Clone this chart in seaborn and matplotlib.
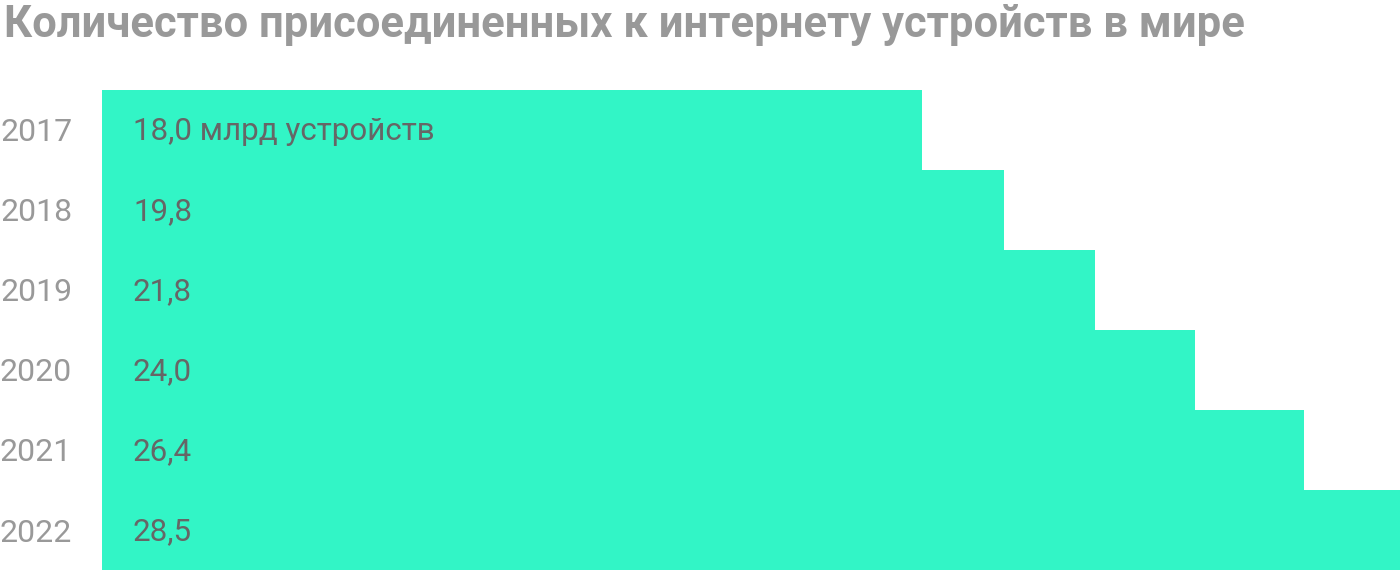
import matplotlib
matplotlib.use('Agg')
from matplotlib import pyplot as plt
import seaborn as sns
import pandas as pd

# данные
anos = ['2017', '2018', '2019', '2020', '2021', '2022']
dispositivos = [18.0, 19.8, 21.8, 24.0, 26.4, 28.5]
rotulos = ['18,0 млрд устройств', '19,8', '21,8', '24,0', '26,4', '28,5']

titulo = 'Количество присоединенных к интернету устройств в мире'

cor_barra = '#32f5c6'
cor_ano = '#999999'
cor_valor = '#666666'

sns.set_theme(style='white')
plt.rcParams['font.family'] = ['Roboto', 'DejaVu Sans']

df = pd.DataFrame({'ano': anos, 'valor': dispositivos})

fig = plt.figure(figsize=(14, 5.72), dpi=100)
ax = fig.add_axes([102 / 1400, 2 / 572, 1298 / 1400, 480 / 572])

sns.barplot(data=df, x='valor', y='ano', orient='h', width=1.0,
            color=cor_barra, saturation=1, linewidth=0, ax=ax)

ax.set_xlim(0, 28.5)
ax.set_xlabel('')
ax.set_ylabel('')
ax.set_xticks([])

# rótulos dos anos
ax.tick_params(axis='y', length=0, pad=21.5, labelsize=23, labelcolor=cor_ano)

# rótulos dos valores
for i, r in enumerate(rotulos):
    ax.annotate(r, xy=(0, i), xytext=(22.3, 1.2), textcoords='offset points',
                va='center_baseline', ha='left', fontsize=22.6, color=cor_valor)

for s in ax.spines.values():
    s.set_visible(False)

fig.text(4 / 1400, 1 - 37 / 572, titulo, fontsize=31.4, fontweight='bold',
         color=cor_ano, ha='left', va='baseline')

fig.savefig('out.png', dpi=100)
